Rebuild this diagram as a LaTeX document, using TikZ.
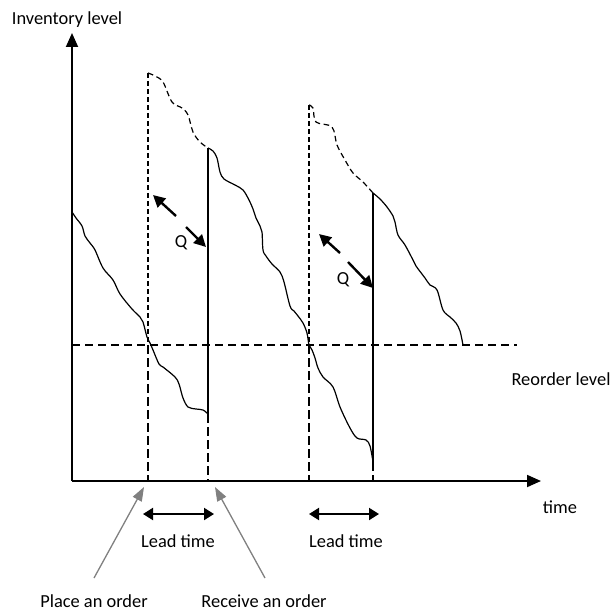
\documentclass[tikz,border=0pt]{standalone}
\usepackage{fontspec}
\setmainfont{Carlito}
\usetikzlibrary{arrows.meta, positioning, calc}

\begin{document}
\begin{tikzpicture}[
  x=0.5pt, y=-0.5pt,
  % Define styles for different elements
  axis/.style={line width=0.9pt, -{Triangle[length=7pt, width=6pt]}},
  stock/.style={line width=0.6pt, smooth, tension=0.55},
  ghost/.style={stock, dash pattern=on 2.8pt off 1.8pt},
  drop/.style={line width=0.55pt},
  guide/.style={line width=0.6pt, dash pattern=on 2.5pt off 1.5pt},
  guidelong/.style={line width=0.6pt, dash pattern=on 4.5pt off 2pt},
  reorder/.style={line width=0.6pt, dash pattern=on 4pt off 2.5pt},
  qarrow/.style={line width=1.2pt, -{Triangle[length=6pt, width=6pt]}},
  leadarrow/.style={line width=1pt, {Triangle[length=5pt, width=6pt]}-{Triangle[length=5pt, width=6pt]}},
  pointer/.style={draw=black!50, line width=0.65pt, -{Triangle[length=7pt, width=5pt]}},
  txt/.style={font=\fontsize{9.2}{11}\selectfont, inner sep=0pt, anchor=base}
]
\useasboundingbox (0,0) rectangle (614,610);

% Axes
\coordinate (origin) at (72,481);
\coordinate (y_top) at (72,33);
\coordinate (x_end) at (541,481);
\draw[axis] (origin) -- (y_top);
\draw[axis] (origin) -- (x_end);

\node[txt] (inventory) at (67,25) {Inventory level};
\node[txt] (time) at (560,513) {time};

% Reorder level
\coordinate (reorder_left) at (72,345);
\coordinate (reorder_right) at (517,345);
\draw[reorder] (reorder_left) -- (reorder_right);
\node[txt] (reorder) at (561,385) {Reorder level};

% Order and receipt instants
\coordinate (order1_top) at (148,73);
\coordinate (order1_cross) at (148,345);
\coordinate (order1_axis) at (148,481);
\coordinate (receive1_top) at (208,148);
\coordinate (receive1_low) at (208,414);
\coordinate (receive1_axis) at (208,481);
\coordinate (order2_top) at (309,105);
\coordinate (order2_cross) at (309,345);
\coordinate (order2_axis) at (309,481);
\coordinate (receive2_top) at (373,193);
\coordinate (receive2_low) at (373,462);
\coordinate (receive2_axis) at (373,481);

\draw[guide] (order1_top) -- (order1_cross);
\draw[guidelong] (order1_cross) -- (order1_axis);
\draw[drop] (receive1_top) -- (receive1_low);
\draw[guidelong] (receive1_low) -- (receive1_axis);
\draw[guide] (order2_top) -- (order2_cross);
\draw[guidelong] (order2_cross) -- (order2_axis);
\draw[drop] (receive2_top) -- (receive2_low);
\draw[guidelong] (receive2_low) -- (receive2_axis);

% Stock curves
\draw[stock] plot coordinates {(72,212) (76,218) (82,226) (85,236) (90,243) (95,250) (103,268) (113,280) (120,294) (132,309) (140,317) (143,322) (147,337) (150,343) (153,350) (159,364) (163,367) (175,377) (179,384) (183,398) (188,407) (196,409) (203,410) (208,414)};
\draw[ghost] plot coordinates {(148,73) (155,76) (163,82) (172,102) (182,108) (188,115) (193,132) (200,142) (208,148)};
\draw[stock] plot coordinates {(208,148) (213,151) (217,158) (220,172) (224,179) (235,185) (243,190) (249,200) (253,209) (256,218) (260,226) (262,232) (263,250) (266,256) (272,264) (280,272) (284,282) (290,306) (294,311) (298,316) (303,323) (307,333) (309,345) (312,350) (315,358) (318,368) (323,377) (333,387) (340,407) (350,428) (357,438) (366,440) (370,446) (373,462)};
\draw[ghost] plot coordinates {(309,105) (313,108) (316,122) (332,127) (337,145) (345,160) (353,173) (363,182) (373,193)};
\draw[stock] plot coordinates {(373,193) (380,199) (387,207) (393,216) (395,222) (398,235) (405,245) (413,260) (416,266) (425,278) (430,285) (437,290) (443,310) (450,317) (456,323) (460,331) (463,345)};

% Order quantity Q
\coordinate (q1_up_from) at (176,216);
\coordinate (q1_up_to) at (153,195);
\coordinate (q1_down_from) at (186,227);
\coordinate (q1_down_to) at (206,247);
\draw[qarrow] (q1_up_from) -- (q1_up_to);
\draw[qarrow] (q1_down_from) -- (q1_down_to);
\node[txt] (q1) at (181,247) {Q};

\coordinate (q2_up_from) at (340,253);
\coordinate (q2_up_to) at (319,234);
\coordinate (q2_down_from) at (348,262);
\coordinate (q2_down_to) at (373,288);
\draw[qarrow] (q2_up_from) -- (q2_up_to);
\draw[qarrow] (q2_down_from) -- (q2_down_to);
\node[txt] (q2) at (343,284) {Q};

% Lead times
\draw[leadarrow] ($(order1_axis)+(-5,33)$) -- ($(receive1_axis)+(6,33)$);
\draw[leadarrow] ($(order2_axis)+(0,33)$) -- ($(receive2_axis)+(6,33)$);
\node[txt] (lead1) at (178,547) {Lead time};
\node[txt] (lead2) at (346,547) {Lead time};

% Place / receive pointers
\node[txt] (place) at (94,607) {Place an order};
\node[txt] (receive) at (264,607) {Receive an order};
\coordinate (place_tail) at (94,578);
\coordinate (place_hit) at (144,487);
\coordinate (receive_tail) at (265,578);
\coordinate (receive_hit) at (215,487);
\draw[pointer] (place_tail) -- (place_hit);
\draw[pointer] (receive_tail) -- (receive_hit);

\end{tikzpicture}
\end{document}
